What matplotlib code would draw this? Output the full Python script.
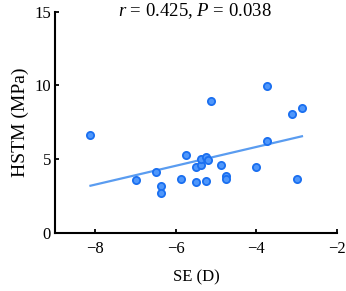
import numpy as np
import matplotlib
matplotlib.use("Agg")
import matplotlib.pyplot as plt

se = [-8.12, -7.00, -6.49, -6.37, -6.37, -5.87, -5.75, -5.50, -5.50, -5.38,
      -5.38, -5.25, -5.25, -5.21, -5.12, -4.88, -4.75, -4.75, -4.00, -3.75,
      -3.75, -3.12, -3.00, -2.87]
hstm = [6.63, 3.56, 4.12, 3.19, 2.72, 3.65, 5.25, 4.48, 3.44, 4.62,
        5.02, 3.51, 5.12, 4.94, 8.94, 4.58, 3.85, 3.67, 4.48, 9.98,
        6.25, 8.06, 3.67, 8.49]
xticks = [-8, -6, -4, -2]
yticks = [0, 5, 10, 15]

plt.rcParams['font.family'] = ['Liberation Serif', 'DejaVu Serif']
plt.rcParams['mathtext.fontset'] = 'custom'
plt.rcParams['mathtext.it'] = 'Liberation Serif:italic'
plt.rcParams['mathtext.rm'] = 'Liberation Serif'

fig = plt.figure(figsize=(3.46, 2.91), dpi=100)
ax = fig.add_axes([0.159, 0.2003, 0.815, 0.7595])

x = np.array(se)
y = np.array(hstm)
k, b = np.polyfit(x, y, 1)
xl = np.array([x.min(), x.max()])
ax.plot(xl, k * xl + b, color='#5a9cf0', lw=1.6, zorder=2)
ax.scatter(x, y, s=27, facecolor='#4f97fb', edgecolor='#1a6ff0', linewidth=1.3, zorder=3)

ax.set_xlim(-9, -2)
ax.set_ylim(0, 15)
ax.set_xticks(xticks)
ax.set_yticks(yticks)
ax.spines['top'].set_visible(False)
ax.spines['right'].set_visible(False)
for s in ['left', 'bottom']:
    ax.spines[s].set_linewidth(1.5)
ax.tick_params(direction='in', length=3, width=1.3, labelsize=12)
ax.tick_params(axis='x', pad=6)
ax.tick_params(axis='y', pad=3)
ax.set_xlabel('SE (D)', fontsize=12, labelpad=9)
ax.set_ylabel('HSTM (MPa)', fontsize=14, labelpad=4)
fig.text(0.563, 0.995, r'$r$ = 0.425, $P$ = 0.038', ha='center', va='top', fontsize=13.5)

fig.savefig('out.png', dpi=100)
